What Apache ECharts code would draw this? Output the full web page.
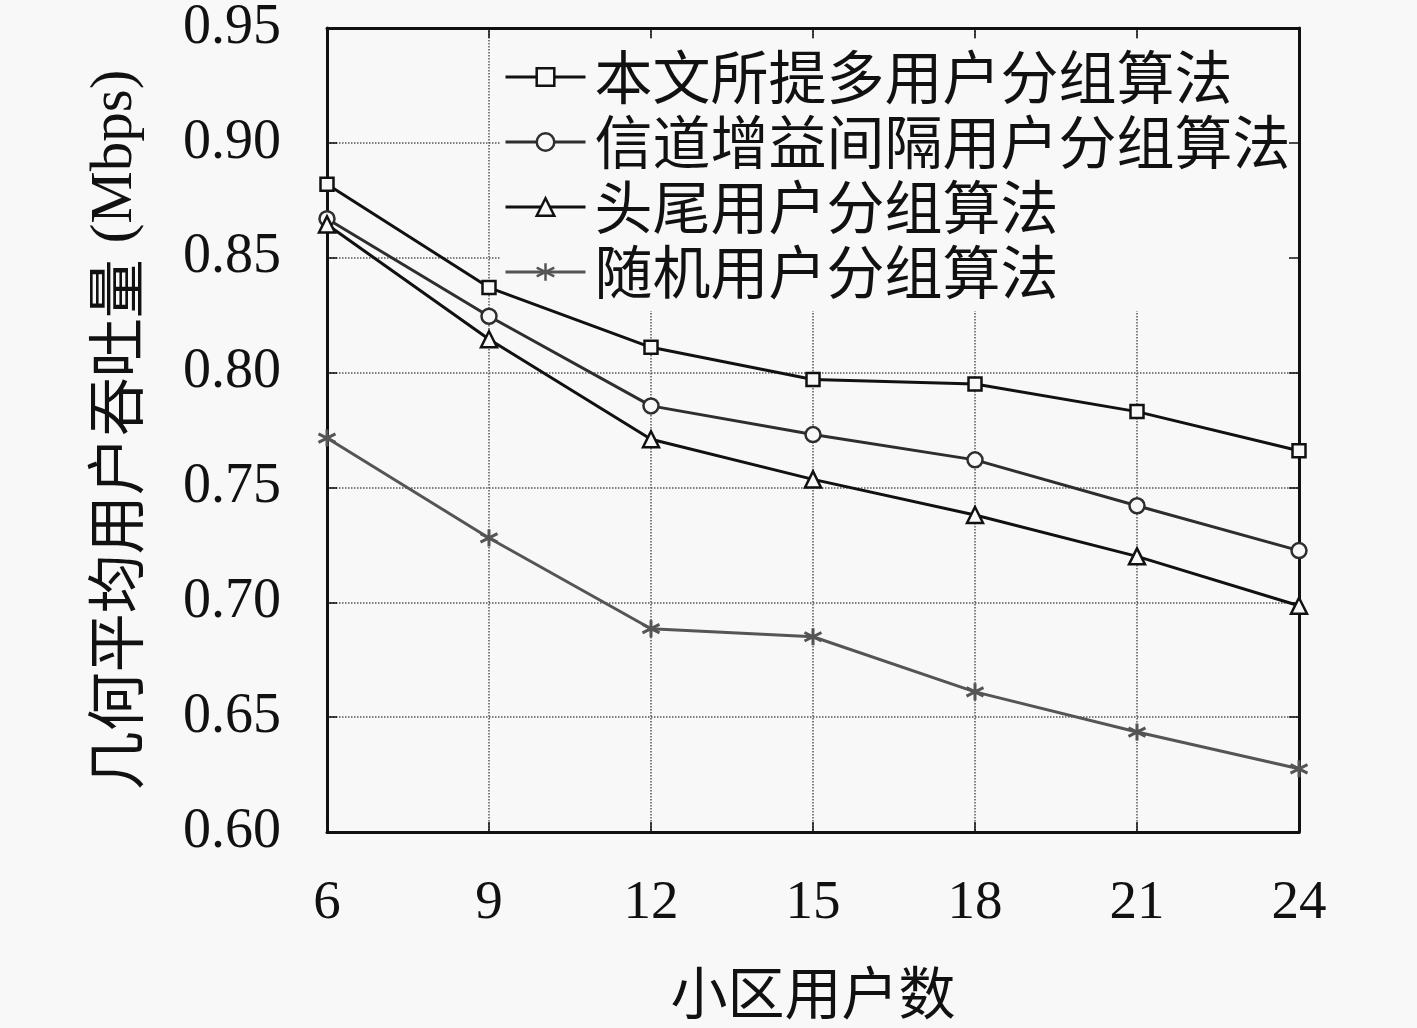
<!DOCTYPE html>
<html>
<head>
<meta charset="utf-8">
<script src="https://cdn.jsdelivr.net/npm/echarts@6/dist/echarts.min.js"></script>
<style>
html,body{margin:0;padding:0;background:#f8f8f8;}
#c{width:1417px;height:1028px;}
</style>
</head>
<body>
<div id="c"></div>
<script>
const xValues = [6, 9, 12, 15, 18, 21, 24];
const seriesNames = ['本文所提多用户分组算法', '信道增益间隔用户分组算法', '头尾用户分组算法', '随机用户分组算法'];
const proposed = [0.882, 0.837, 0.811, 0.797, 0.795, 0.783, 0.766];
const gainInterval = [0.867, 0.8245, 0.7855, 0.773, 0.762, 0.742, 0.7225];
const headTail = [0.8645, 0.8145, 0.771, 0.7535, 0.738, 0.720, 0.6985];
const randomGroup = [0.7715, 0.728, 0.6885, 0.685, 0.661, 0.6435, 0.6275];
const yTicks = [0.60, 0.65, 0.70, 0.75, 0.80, 0.85, 0.90, 0.95];

const serif = "'Liberation Serif', 'DejaVu Serif', serif";
const cjk = "'Noto Sans CJK SC', sans-serif";
const star = 'path://M0,-10L0,10M-9,-5L9,5M-9,5L9,-5';
const colors = ['#111', '#2e2e2e', '#111', '#555'];

function pairs(ys){ return xValues.map((x,i)=>[x, ys[i]]); }

const chart = echarts.init(document.getElementById('c'));
const bg = '#f8f8f8';
chart.setOption({
  backgroundColor: bg,
  animation: false,
  grid: {left: 327, right: 118, top: 25, bottom: 196, containLabel: false},
  legend: {
    orient: 'vertical',
    left: 500, top: 40, z: 1,
    padding: [6, 8, 8, 4],
    backgroundColor: bg,
    itemWidth: 80, itemHeight: 22,
    itemGap: 3,
    lineStyle: {width: 3},
    itemStyle: {borderWidth: 2.5},
    textStyle: {fontFamily: cjk, fontSize: 58, color: '#111', lineHeight: 62, padding: [0,0,0,4]},
    data: seriesNames
  },
  xAxis: [{
    type: 'value', min: 6, max: 24, interval: 3,
    name: '小区用户数', nameLocation: 'middle', nameGap: 132,
    nameTextStyle: {fontFamily: cjk, fontSize: 57, color: '#111'},
    axisLine: {show: true, onZero: false, lineStyle: {color: '#111', width: 3}},
    axisTick: {show: true, inside: true, length: 10, lineStyle: {color: '#111', width: 1.5}},
    axisLabel: {fontFamily: serif, fontSize: 55, color: '#111', margin: 44, formatter: v => String(v)},
    splitLine: {show: true, lineStyle: {type: 'dotted', color: '#555', width: 1.5}}
  }, {
    type: 'value', min: 6, max: 24, interval: 3, position: 'top', z: 2,
    axisLine: {show: true, onZero: false, lineStyle: {color: '#111', width: 3}},
    axisTick: {show: true, inside: true, length: 10, lineStyle: {color: '#111', width: 1.5}},
    axisLabel: {show: false}, splitLine: {show: false}
  }],
  yAxis: [{
    type: 'value', min: 0.60, max: 0.95, interval: 0.05,
    name: '{c|几何平均用户吞吐量}{s|(Mbps)}', nameLocation: 'middle', nameGap: 182,
    nameTextStyle: {color: '#111', rich: {
      c: {fontFamily: cjk, fontSize: 59, color: '#111'},
      s: {fontFamily: serif, fontSize: 59, color: '#111', padding: [0, 0, 0, 16]}
    }},
    axisLine: {show: true, onZero: false, lineStyle: {color: '#111', width: 3}},
    axisTick: {show: true, inside: true, length: 10, lineStyle: {color: '#111', width: 1.5}},
    axisLabel: {fontFamily: serif, fontSize: 56, color: '#111', margin: 46,
      formatter: v => { const t = yTicks.find(k => Math.abs(k - v) < 1e-6); return t === undefined ? '' : t.toFixed(2); }},
    splitLine: {show: true, lineStyle: {type: 'dotted', color: '#555', width: 1.5}}
  }, {
    type: 'value', min: 0.60, max: 0.95, interval: 0.05, position: 'right', z: 2,
    axisLine: {show: true, onZero: false, lineStyle: {color: '#111', width: 3}},
    axisTick: {show: true, inside: true, length: 10, lineStyle: {color: '#111', width: 1.5}},
    axisLabel: {show: false}, splitLine: {show: false}
  }],
  series: [
    {name: seriesNames[0], type: 'line', data: pairs(proposed), symbol: 'rect', symbolSize: 13, z: 3,
     lineStyle: {color: colors[0], width: 3}, itemStyle: {color: bg, borderColor: colors[0], borderWidth: 2.5}},
    {name: seriesNames[1], type: 'line', data: pairs(gainInterval), symbol: 'circle', symbolSize: 15, z: 3,
     lineStyle: {color: colors[1], width: 3}, itemStyle: {color: bg, borderColor: colors[1], borderWidth: 2.5}},
    {name: seriesNames[2], type: 'line', data: pairs(headTail), symbol: 'triangle', symbolSize: 16, z: 3,
     lineStyle: {color: colors[2], width: 3}, itemStyle: {color: bg, borderColor: colors[2], borderWidth: 2.5}},
    {name: seriesNames[3], type: 'line', data: pairs(randomGroup), symbol: star, symbolSize: 17, z: 3,
     lineStyle: {color: colors[3], width: 3}, itemStyle: {color: 'none', borderColor: colors[3], borderWidth: 3}}
  ]
});
</script>
</body>
</html>
